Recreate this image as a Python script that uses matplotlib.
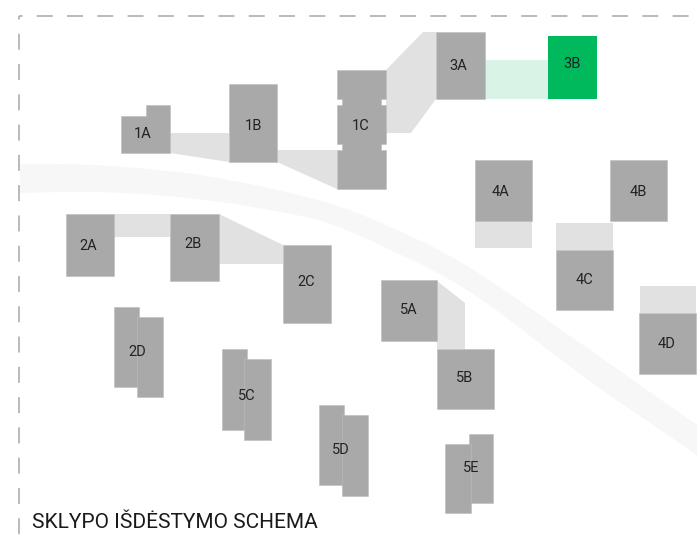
import matplotlib
matplotlib.use("Agg")
import matplotlib.pyplot as plt
from matplotlib.patches import Polygon, PathPatch
from matplotlib.path import Path

plt.rcParams['font.family'] = ['Roboto', 'Lato', 'DejaVu Sans']
plt.rcParams['lines.scale_dashes'] = False

# Site plan read in picture coordinates
block_x0 = [229, 283, 66, 170, 114, 137, 222, 244, 319, 342, 381, 437, 469, 445, 436, 475, 610, 556, 639]
block_y0 = [84, 245, 214, 214, 307, 317, 349, 359, 405, 415, 280, 349, 434, 444, 32, 160, 160, 250, 313]
block_x1 = [277, 331, 114, 219, 139, 163, 247, 271, 344, 368, 437, 494, 493, 471, 485, 532, 667, 613, 696]
block_y1 = [162, 323, 276, 281, 387, 397, 430, 440, 485, 496, 341, 409, 503, 513, 99, 221, 221, 310, 374]

block_1a_x = [121, 146, 146, 170, 170, 121]
block_1a_y = [116, 116, 105, 105, 153, 153]
block_1c_x = [337, 386, 386, 381, 381, 386, 386, 381, 381, 386, 386, 337, 337, 342, 342, 337, 337, 342, 342, 337]
block_1c_y = [70, 70, 99, 99, 105, 105, 144, 144, 150, 150, 189, 189, 150, 150, 144, 144, 105, 105, 99, 99]

highlight_x0, highlight_y0, highlight_x1, highlight_y1 = 548, 36, 597, 99
link_green_x0, link_green_y0, link_green_x1, link_green_y1 = 485, 60, 548, 99

link_shapes_x = [
    [170, 229, 229, 170],
    [277, 337, 337, 277],
    [386, 423, 436, 436, 411, 386],
    [114, 170, 170, 114],
    [219, 283, 283, 219],
    [437, 465, 465, 437],
    [475, 532, 532, 475],
    [556, 613, 613, 556],
    [640, 696, 696, 640],
]
link_shapes_y = [
    [133, 133, 162, 153],
    [150, 150, 189, 162],
    [70, 32, 32, 99, 133, 133],
    [214, 214, 237, 237],
    [214, 245, 264, 264],
    [281, 303, 349, 349],
    [221, 221, 248, 248],
    [223, 223, 250, 250],
    [286, 286, 313, 313],
]

road_top_x = [20, 67, 167, 233, 300, 330, 363, 397, 430, 463, 500, 583, 650, 697]
road_top_y = [164, 163, 170, 180, 195, 203, 215, 230, 245, 263, 287, 345, 392, 425]
road_low_x = [20, 100, 200, 300, 330, 363, 397, 433, 473, 523, 583, 650, 697]
road_low_y = [193, 191, 198, 215, 223, 237, 253, 270, 293, 330, 377, 423, 455]

label_names = ['1A', '1B', '1C', '2A', '2B', '2C', '2D', '5C', '5D', '5A', '5B', '5E', '3A', '3B', '4A', '4B', '4C', '4D']
label_x = [143, 254, 361, 88, 193, 306, 137, 247, 341, 409, 465, 471, 458, 572, 500, 638, 584, 667]
label_y = [134, 125, 125, 245, 244, 282, 351, 395, 450, 309, 378, 467, 65, 64, 191, 191, 279, 344]

title_text = 'SKLYPO IŠDĖSTYMO SCHEMA'

GRAY = '#a9a9a9'
EDGE = '#bdbdbd'
LIGHT = '#e1e1e1'
ROAD = '#f7f7f7'
GREEN = '#00b95c'
PALE_GREEN = '#d9f4e7'
DASH = '#b4b4b4'


def smooth(xs, ys):
    verts = [(xs[0], ys[0])]
    codes = [Path.LINETO]
    for i in range(1, len(xs) - 1):
        mx, my = (xs[i] + xs[i + 1]) / 2, (ys[i] + ys[i + 1]) / 2
        verts += [(xs[i], ys[i]), (mx, my)]
        codes += [Path.CURVE3, Path.CURVE3]
    verts.append((xs[-1], ys[-1]))
    codes.append(Path.LINETO)
    return verts, codes


fig = plt.figure(figsize=(6.97, 5.41), dpi=100)
ax = fig.add_axes([0, 0, 1, 1])
ax.set_xlim(0, 697)
ax.set_ylim(541, 0)
ax.axis('off')

# road band
tv, tc = smooth(road_top_x, road_top_y)
lv, lc = smooth(road_low_x[::-1], road_low_y[::-1])
tc[0] = Path.MOVETO
verts = tv + lv + [tv[0]]
codes = tc + lc + [Path.CLOSEPOLY]
ax.add_patch(PathPatch(Path(verts, codes), fc=ROAD, ec='none', zorder=1))

# boundary
dash = (9, (11.5, 10.3))
ax.plot([19, 697], [16, 16], color=DASH, lw=1.3, linestyle=dash, dash_capstyle='butt', zorder=2)
ax.plot([19, 19], [16, 538], color=DASH, lw=1.3, linestyle=dash, dash_capstyle='butt', zorder=2)

# links
for xs, ys in zip(link_shapes_x, link_shapes_y):
    ax.add_patch(Polygon(list(zip(xs, ys)), closed=True, fc=LIGHT, ec='none', zorder=3))
ax.fill_between([link_green_x0, link_green_x1], link_green_y0, link_green_y1, color=PALE_GREEN, lw=0, zorder=3)

# buildings
for x0, y0, x1, y1 in zip(block_x0, block_y0, block_x1, block_y1):
    ax.fill_between([x0, x1], y0, y1, facecolor=GRAY, edgecolor=EDGE, lw=0.4, zorder=4)
for xs, ys in [(block_1a_x, block_1a_y), (block_1c_x, block_1c_y)]:
    ax.add_patch(Polygon(list(zip(xs, ys)), closed=True, fc=GRAY, ec=EDGE, lw=0.4, zorder=4))
ax.fill_between([highlight_x0, highlight_x1], highlight_y0, highlight_y1, color=GREEN, lw=0, zorder=4)

for name, x, y in zip(label_names, label_x, label_y):
    ax.text(x, y + 0.5, name, ha='center', va='center', fontsize=10.5, color='#222222', zorder=5)

ax.text(32, 522, title_text, ha='left', va='center', fontsize=15, color='#1a1a1a', zorder=5)

fig.savefig('out.png', dpi=100)
